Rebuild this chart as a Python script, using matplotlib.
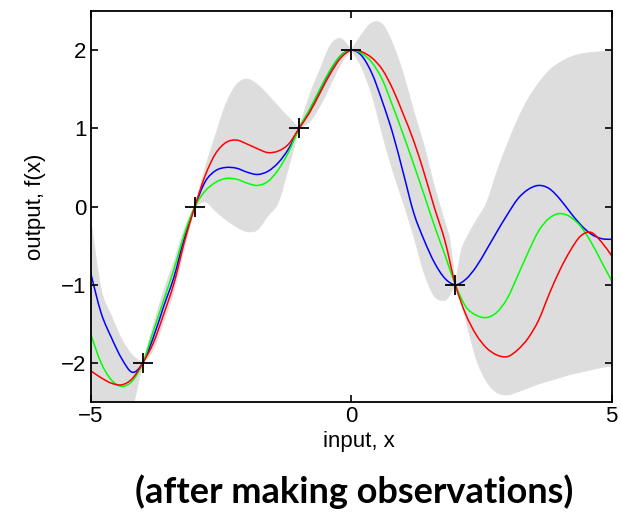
import numpy as np
import matplotlib.pyplot as plt
from matplotlib.path import Path
from matplotlib.patches import PathPatch

# sample grid for the three posterior draws
x_grid = [-5.0, -4.8, -4.6, -4.4, -4.2, -4.0, -3.8, -3.6, -3.4, -3.2, -3.0,
          -2.8, -2.6, -2.4, -2.2, -2.0, -1.8, -1.6, -1.4, -1.2, -1.0,
          -0.8, -0.6, -0.4, -0.2, 0.0, 0.2, 0.4, 0.6, 0.8, 1.0,
          1.2, 1.4, 1.6, 1.8, 2.0, 2.2, 2.4, 2.6, 2.8, 3.0,
          3.2, 3.4, 3.6, 3.8, 4.0, 4.2, 4.4, 4.6, 4.8, 5.0]

blue_f = [-0.85, -1.36, -1.68, -1.95, -2.12, -2.0, -1.68, -1.28, -0.9, -0.4, 0.0,
          0.32, 0.46, 0.5, 0.49, 0.44, 0.41, 0.45, 0.56, 0.74, 1.0,
          1.23, 1.49, 1.74, 1.93, 2.0, 1.93, 1.7, 1.34, 0.93, 0.43,
          -0.08, -0.43, -0.72, -0.92, -1.0, -0.93, -0.77, -0.55, -0.32, -0.1,
          0.1, 0.22, 0.27, 0.23, 0.1, -0.07, -0.23, -0.35, -0.41, -0.42]

green_f = [-1.63, -2.0, -2.22, -2.3, -2.23, -2.0, -1.6, -1.2, -0.8, -0.35, 0.0,
           0.2, 0.31, 0.36, 0.35, 0.3, 0.27, 0.32, 0.47, 0.7, 1.0,
           1.24, 1.5, 1.75, 1.93, 2.0, 1.96, 1.84, 1.62, 1.28, 0.92,
           0.54, 0.15, -0.25, -0.62, -1.0, -1.28, -1.39, -1.42, -1.35, -1.17,
           -0.88, -0.58, -0.31, -0.15, -0.09, -0.13, -0.25, -0.45, -0.7, -0.95]

red_f = [-2.1, -2.19, -2.26, -2.28, -2.2, -2.0, -1.75, -1.38, -0.98, -0.45, 0.0,
         0.4, 0.68, 0.82, 0.85, 0.8, 0.74, 0.69, 0.71, 0.8, 1.0,
         1.2, 1.45, 1.7, 1.9, 2.0, 1.98, 1.9, 1.75, 1.5, 1.18,
         0.84, 0.43, -0.02, -0.44, -1.0, -1.38, -1.64, -1.81, -1.9, -1.92,
         -1.83, -1.68, -1.45, -1.12, -0.82, -0.57, -0.38, -0.33, -0.45, -0.63]

# shaded +/- 2 std band
band_x = [-5.0, -4.8, -4.6, -4.4, -4.2, -4.0, -3.8, -3.6, -3.4, -3.2, -3.0,
          -2.8, -2.6, -2.4, -2.2, -2.0, -1.8, -1.6, -1.4, -1.2, -1.0,
          -0.8, -0.6, -0.4, -0.2, 0.0, 0.2, 0.4, 0.6, 0.8, 1.0,
          1.2, 1.4, 1.6, 1.8, 1.9, 2.0, 2.1, 2.2, 2.4, 2.6, 2.8, 3.0,
          3.2, 3.4, 3.6, 3.8, 4.0, 4.2, 4.4, 4.6, 4.8, 5.0]
band_upper = [-0.15, -1.05, -1.4, -1.7, -1.9, -2.0, -1.52, -1.08, -0.7, -0.28, 0.0,
              0.5, 0.92, 1.32, 1.56, 1.63, 1.56, 1.43, 1.28, 1.14, 1.0,
              1.42, 1.75, 2.06, 2.15, 2.0, 2.2, 2.35, 2.33, 2.08, 1.7,
              1.22, 0.78, 0.25, -0.2, -0.45, -1.0, -0.6, -0.42, -0.18, 0.05, 0.45, 0.8,
              1.12, 1.38, 1.58, 1.74, 1.84, 1.91, 1.95, 1.97, 1.98, 1.99]
band_lower = [-4.0, -3.6, -3.2, -2.85, -2.58, -2.0, -1.84, -1.48, -1.08, -0.54, 0.0,
              0.06, -0.06, -0.17, -0.26, -0.32, -0.3, -0.12, 0.05, 0.5, 1.0,
              1.08, 1.28, 1.55, 1.82, 2.0, 1.78, 1.42, 0.92, 0.45, 0.05,
              -0.38, -0.85, -1.15, -1.2, -1.12, -1.0, -1.2, -1.45, -1.95, -2.24, -2.38, -2.41,
              -2.37, -2.32, -2.27, -2.23, -2.19, -2.15, -2.12, -2.09, -2.06, -2.04]

# observations
obs_x = [-4, -3, -1, 0, 2]
obs_y = [-2, 0, 1, 2, -1]

xticks = [-5, 0, 5]
yticks = [-2, -1, 0, 1, 2]


def smooth_verts(xs, ys):
    # bezier control points through the read points (catmull-rom style)
    pts = np.column_stack([xs, ys]).astype(float)
    n = len(pts)
    verts = [pts[0]]
    codes = [Path.MOVETO]
    for i in range(n - 1):
        p0 = pts[max(i - 1, 0)]
        p1 = pts[i]
        p2 = pts[i + 1]
        p3 = pts[min(i + 2, n - 1)]
        verts += [p1 + (p2 - p0) / 6, p2 - (p3 - p1) / 6, p2]
        codes += [Path.CURVE4] * 3
    return verts, codes


plt.rcParams['font.family'] = ['Liberation Sans', 'DejaVu Sans']

fig = plt.figure(figsize=(6.21, 5.13), dpi=100)
ax = fig.add_axes([0.146, 0.2164, 0.839, 0.762])

# band, split at the observations so it pinches there
bx = np.array(band_x)
cuts = [0] + [int(np.argmin(np.abs(bx - o))) for o in obs_x] + [len(bx) - 1]
for a, b in zip(cuts[:-1], cuts[1:]):
    uv, uc = smooth_verts(band_x[a:b + 1], band_upper[a:b + 1])
    lv, lc = smooth_verts(band_x[a:b + 1][::-1], band_lower[a:b + 1][::-1])
    verts = uv + [lv[0]] + lv[1:] + [uv[0]]
    codes = uc + [Path.LINETO] + lc[1:] + [Path.CLOSEPOLY]
    ax.add_patch(PathPatch(Path(verts, codes), facecolor='#dddddd',
                           edgecolor='#dddddd', lw=0.5))

for ys, col in [(blue_f, 'blue'), (green_f, '#00ff00'), (red_f, 'red')]:
    v, c = smooth_verts(x_grid, ys)
    ax.add_patch(PathPatch(Path(v, c), fill=False, edgecolor=col, lw=1.1))

ax.plot(obs_x, obs_y, '+', color='black', markersize=15, mew=1.3, zorder=5)

ax.set_xlim(-5, 5)
ax.set_ylim(-2.5, 2.5)
ax.set_xticks(xticks)
ax.set_yticks(yticks)
ax.set_xticklabels(['\u22125', '0', '5'])
ax.set_yticklabels(['\u22122', '\u22121', '0', '1', '2'])
ax.tick_params(direction='in', length=5, width=1.2, labelsize=16,
               top=True, right=True, pad=3)
for s in ax.spines.values():
    s.set_linewidth(1.3)

ax.set_xlabel('input, x', fontsize=16)
ax.xaxis.set_label_coords(0.515, -0.075)
ax.set_ylabel('output, f(x)', fontsize=16)
ax.yaxis.set_label_coords(-0.085, 0.5)

fig.text(0.571, 0.041, '(after making observations)', fontsize=26,
         fontweight='bold', family='Lato', ha='center', va='center')

fig.savefig('out.png', dpi=100)
